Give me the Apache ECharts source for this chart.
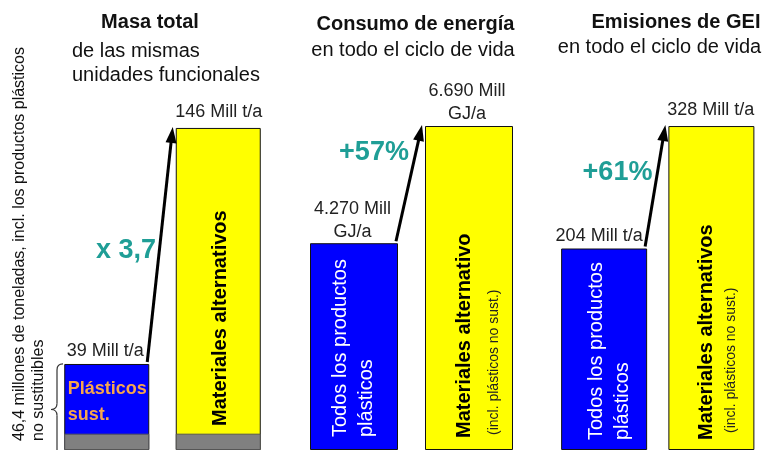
<!DOCTYPE html>
<html><head><meta charset="utf-8">
<script src="https://cdn.jsdelivr.net/npm/echarts@6/dist/echarts.min.js"></script>
<style>html,body{margin:0;padding:0;background:#fff}#c{width:765px;height:450px}</style>
</head><body><div id="c"></div>
<script>
// ---------- data ----------
const panelTitles = ['Masa total', 'Consumo de energía', 'Emisiones de GEI'];
const panelSubtitles = [['de las mismas', 'unidades funcionales'], ['en todo el ciclo de vida'], ['en todo el ciclo de vida']];
const categories = ['Plásticos', 'Materiales alternativos'];
const masaValues = [39, 146];        // Mill t/a
const energiaValues = [4270, 6690];  // Mill GJ/a
const geiValues = [204, 328];        // Mill t/a
const noSustituibles = [7.4, 7.4];   // Mill t/a (46,4 - 39)
const valueLabels = [['39 Mill t/a', '146 Mill t/a'], ['4.270 Mill\nGJ/a', '6.690 Mill\nGJ/a'], ['204 Mill t/a', '328 Mill t/a']];
const growthLabels = ['x 3,7', '+57%', '+61%'];
const blueTexts = ['Plásticos\nsust.', 'Todos los productos\nplásticos', 'Todos los productos\nplásticos'];
const yellowTexts = ['Materiales alternativos', 'Materiales alternativo', 'Materiales alternativos'];
const yellowNotes = ['', '(incl. plásticos no sust.)', '(incl. plásticos no sust.)'];
const sideText = '46,4 millones de toneladas, incl. los productos plásticos\nno sustituibles';

// ---------- style ----------
const FONT = '"Liberation Sans", Arial, Helvetica, sans-serif';
const BLUE = '#0000FF', YELLOW = '#FFFF00', GRAY = '#808080', TEAL = '#1F9E96', ORANGE = '#F6A54E';
const panelValues = [masaValues, energiaValues, geiValues];
const grids = [
  {left: 51, top: 0, width: 223, height: 452},
  {left: 296.5, top: 0, width: 230, height: 450},
  {left: 550.5, top: 0, width: 221, height: 450}
];
const yMax = [204, 9292, 455.6];
const barWidths = [85, 88, 86];
const labelTweaks = [[[-1.5, 2], [0.5, 4.2]], [[-1.5, 0], [-2, 1.2]], [[-5, 1], [-0.7, 4.5]]];

const chart = echarts.init(document.getElementById('c'), null, {renderer: 'canvas'});

const series = panelValues.map((vals, p) => ({
  type: 'bar', xAxisIndex: p, yAxisIndex: p, barWidth: barWidths[p], barGap: '-100%',
  animation: false, silent: true,
  itemStyle: {borderColor: '#111', borderWidth: 1},
  data: vals.map((v, i) => ({
    value: v,
    itemStyle: {color: i === 0 ? BLUE : YELLOW},
    label: {offset: [labelTweaks[p][i][0], 0], distance: labelTweaks[p][i][1]}
  })),
  label: {
    show: true, position: 'top', formatter: d => valueLabels[p][d.dataIndex],
    fontFamily: FONT, fontSize: 18, color: '#222', lineHeight: 22.5, align: 'center'
  }
}));
series.push({
  type: 'bar', xAxisIndex: 0, yAxisIndex: 0, barWidth: barWidths[0], barGap: '-100%', z: 3,
  animation: false, silent: true, data: noSustituibles,
  itemStyle: {color: GRAY, borderColor: '#555', borderWidth: 1}
});

chart.setOption({
  animation: false,
  grid: grids,
  xAxis: grids.map((g, i) => ({type: 'category', gridIndex: i, data: categories, show: false})),
  yAxis: grids.map((g, i) => ({type: 'value', gridIndex: i, min: 0, max: yMax[i], show: false})),
  series: series
});

// ---------- annotations ----------
function pt(p, i, v) { return chart.convertToPixel({gridIndex: p}, [i, v]); }
function text(x, y, t, font, fill, align, valign, rot, lh) {
  const el = {type: 'text', x: x, y: y, silent: true, z: 100,
    style: {text: t, font: font, fill: fill, textAlign: align, align: align,
      textVerticalAlign: valign, verticalAlign: valign, lineHeight: lh || undefined}};
  if (rot) el.rotation = Math.PI / 2;
  return el;
}
const els = [];
const titleCenters = [[150, 22], [415.5, 24.5], [676, 22.5]];
titleCenters.forEach((c, p) => els.push(text(c[0], c[1], panelTitles[p], 'bold 20px ' + FONT, '#111', 'center', 'middle')));
els.push(text(72, 51, panelSubtitles[0][0], '20px ' + FONT, '#111', 'left', 'middle'));
els.push(text(72, 75, panelSubtitles[0][1], '20px ' + FONT, '#111', 'left', 'middle'));
els.push(text(413, 50.5, panelSubtitles[1][0], '20px ' + FONT, '#111', 'center', 'middle'));
els.push(text(659.5, 47.5, panelSubtitles[2][0], '20px ' + FONT, '#111', 'center', 'middle'));

const growthPos = [[126, 251], [374, 152.5], [617.5, 173]];
growthPos.forEach((c, p) => els.push(text(c[0], c[1], growthLabels[p], 'bold 27px ' + FONT, TEAL, 'center', 'middle')));

panelValues.forEach((vals, p) => {
  const b = pt(p, 0, vals[0]);
  const y = pt(p, 1, vals[1]);
  const hw = barWidths[p] / 2;
  // arrow
  const sx = b[0] + hw - 2, sy = b[1] - 2;
  const tx = y[0] - hw - 3, ty = y[1] - 1;
  const dx = tx - sx, dy = ty - sy, len = Math.hypot(dx, dy);
  const ux = dx / len, uy = dy / len;
  const L = 16, W = 5.5;
  const bx = tx - ux * L, by = ty - uy * L;
  els.push({type: 'line', silent: true, z: 100, shape: {x1: sx, y1: sy, x2: bx + ux * 2, y2: by + uy * 2}, style: {stroke: '#000', lineWidth: 3}});
  els.push({type: 'polygon', silent: true, z: 100, shape: {points: [[tx, ty], [bx - uy * W, by + ux * W], [bx + uy * W, by - ux * W]]}, style: {fill: '#000'}});
  // texts inside bars
  if (p === 0) {
    els.push(text(b[0] - 39, b[1] + 38.5, blueTexts[0], 'bold 18px ' + FONT, ORANGE, 'left', 'middle', false, 26));
    els.push(text(y[0] + 2, 426, yellowTexts[0], 'bold 20px ' + FONT, '#000', 'left', 'middle', true));
  } else {
    const off = p === 1 ? -1 : 5;
    els.push(text(b[0] + off, p === 1 ? 437 : 440, blueTexts[p], '20px ' + FONT, '#fff', 'left', 'middle', true, 26));
    els.push(text(y[0] - (p === 1 ? 4.5 : 5), p === 1 ? 438 : 440, yellowTexts[p], 'bold 20px ' + FONT, '#000', 'left', 'middle', true));
    els.push(text(y[0] + (p === 1 ? 25 : 20), p === 1 ? 435 : 433, yellowNotes[p], '14px ' + FONT, '#222', 'left', 'middle', true));
  }
});

// brace beside the first blue bar
(function () {
  const top = pt(0, 0, masaValues[0])[1];
  const bot = 452, mid = (top + 455) / 2;
  const xr = 63, xs = 57, xp = 51;
  const st = {stroke: '#333', lineWidth: 1.2, fill: 'none'};
  const mk = (type, shape) => ({type: type, silent: true, z: 100, shape: shape, style: st});
  els.push(mk('bezierCurve', {x1: xr, y1: top, x2: xs, y2: top + 6, cpx1: xs, cpy1: top}));
  els.push(mk('line', {x1: xs, y1: top + 6, x2: xs, y2: mid - 6}));
  els.push(mk('bezierCurve', {x1: xs, y1: mid - 6, x2: xp, y2: mid, cpx1: xs, cpy1: mid}));
  els.push(mk('bezierCurve', {x1: xp, y1: mid, x2: xs, y2: mid + 6, cpx1: xs, cpy1: mid}));
  els.push(mk('line', {x1: xs, y1: mid + 6, x2: xs, y2: bot}));
})();

els.push(text(29, 441, sideText, '16px ' + FONT, '#111', 'left', 'middle', true, 19));

chart.setOption({graphic: {elements: els}});
</script>
</body></html>
